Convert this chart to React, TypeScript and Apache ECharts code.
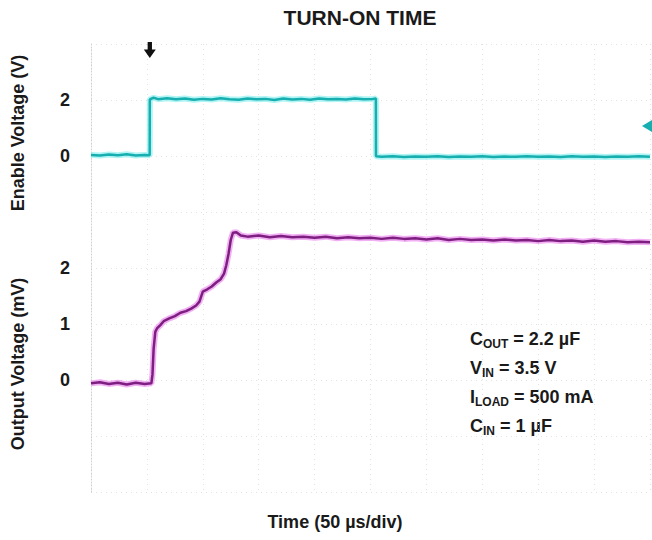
import React, { useEffect, useRef } from "react";
import * as echarts from "echarts";

const TITLE = "TURN-ON TIME";
const X_NAME = "Time (50 µs/div)";
const ENABLE_NAME = "Enable Voltage (V)";
const OUTPUT_NAME = "Output Voltage (mV)";
const ENABLE_TICKS = [0, 2];
const OUTPUT_TICKS = [0, 1, 2];
const TRIGGER_TIME = 52.6; // µs
const ENABLE_LEVEL_MARK = 1.07; // V

// Enable voltage trace: [time µs, volts]
const enableTrace: [number, number][] = [
  [0, 0.04], [8, 0.02], [16, 0.05], [24, 0.03], [32, 0.06], [40, 0.02], [48, 0.04], [52.5, 0.03],
  [52.6, 2.02], [56, 2.08], [60, 2.03], [68, 2.06], [76, 2.03], [84, 2.05], [92, 2.01], [100, 2.04],
  [108, 2.02], [116, 2.06], [124, 2.03], [132, 2.01], [140, 2.05], [148, 2.03], [156, 2.04], [164, 2.0],
  [172, 2.05], [180, 2.02], [188, 2.04], [196, 2.01], [204, 2.05], [212, 2.03], [220, 2.04], [228, 2.02],
  [236, 2.05], [244, 2.03], [252, 2.04], [254.8, 2.05],
  [254.9, -0.01], [260, -0.03], [270, -0.01], [280, -0.04], [290, -0.02], [300, -0.03], [310, -0.01],
  [320, -0.04], [330, -0.02], [340, -0.03], [350, -0.01], [360, -0.04], [370, -0.02], [380, -0.03],
  [390, -0.01], [400, -0.03], [410, -0.02], [420, -0.04], [430, -0.01], [440, -0.03], [450, -0.02],
  [460, -0.04], [470, -0.02], [480, -0.03], [490, -0.01], [500, -0.03],
];

// Output voltage trace: [time µs, mV]
const outputTrace: [number, number][] = [
  [0, -0.06], [8, -0.04], [16, -0.07], [24, -0.05], [32, -0.08], [40, -0.05], [48, -0.07], [54, -0.06],
  [55, 0.1], [56, 0.55], [57.5, 0.86], [59, 0.92], [62, 0.98], [65, 1.05], [70, 1.1], [75, 1.14],
  [80, 1.2], [85, 1.23], [90, 1.28], [94, 1.33], [97, 1.4], [100, 1.58], [104, 1.62], [108, 1.67],
  [112, 1.74], [116, 1.8], [119, 1.9], [121, 2.05], [123, 2.25], [125, 2.5], [127, 2.63], [130, 2.64],
  [134, 2.58], [140, 2.56], [150, 2.58], [160, 2.55], [170, 2.57], [180, 2.55], [190, 2.56], [200, 2.54],
  [210, 2.56], [220, 2.53], [230, 2.55], [240, 2.53], [250, 2.54], [260, 2.52], [270, 2.54], [280, 2.52],
  [290, 2.53], [300, 2.51], [310, 2.53], [320, 2.5], [330, 2.52], [340, 2.5], [350, 2.51], [360, 2.49],
  [370, 2.51], [380, 2.49], [390, 2.5], [400, 2.48], [410, 2.5], [420, 2.48], [430, 2.49], [440, 2.47],
  [450, 2.49], [460, 2.47], [470, 2.48], [480, 2.46], [490, 2.47], [500, 2.46],
];

const FONT = "'Liberation Sans', Arial, sans-serif";
const TEXT_COLOR = "#1a1a1a";
const TEAL = "#17aeb0";
const TEAL_HALO = "#8ff0ef";
const PURPLE = "#7d1e80";
const PURPLE_HALO = "#ec8ff0";

const annotations = [
  { main: "C", sub: "OUT", rest: " = 2.2 µF" },
  { main: "V", sub: "IN", rest: " = 3.5 V" },
  { main: "I", sub: "LOAD", rest: " = 500 mA" },
  { main: "C", sub: "IN", rest: " = 1 µF" },
];

export default function App() {
  const ref = useRef<HTMLDivElement>(null);
  useEffect(() => {
    if (!ref.current) return;
    const chart = echarts.init(ref.current, undefined, { renderer: "svg" });
    const gridLine = { show: true, lineStyle: { color: "#e2e2e2", type: [1, 4] as any, width: 1 } };
    const option: any = {
      animation: false,
      backgroundColor: "#ffffff",
      grid: { left: 91, top: 44, width: 559, height: 448 },
      xAxis: {
        type: "value",
        min: 0,
        max: 500,
        interval: 50,
        axisLabel: { show: false },
        axisTick: { show: false },
        axisLine: { show: false },
        splitLine: gridLine,
      },
      yAxis: [
        {
          type: "value",
          min: -12,
          max: 4,
          interval: 2,
          position: "left",
          axisLine: { show: true, lineStyle: { color: "#d0d0d0", type: [1, 2] as any } },
          axisTick: { show: false },
          splitLine: gridLine,
          axisLabel: {
            margin: 21,
            fontSize: 18,
            fontWeight: "bold",
            fontFamily: FONT,
            color: TEXT_COLOR,
            formatter: (v: number) => (ENABLE_TICKS.includes(v) ? String(v) : ""),
          },
        },
        {
          type: "value",
          min: -2,
          max: 6,
          interval: 1,
          position: "left",
          offset: 0,
          axisLine: { show: false },
          axisTick: { show: false },
          splitLine: { show: false },
          axisLabel: {
            margin: 21,
            fontSize: 18,
            fontWeight: "bold",
            fontFamily: FONT,
            color: TEXT_COLOR,
            formatter: (v: number) => (OUTPUT_TICKS.includes(v) ? String(v) : ""),
          },
        },
      ],
      series: [
        {
          type: "line",
          yAxisIndex: 0,
          data: enableTrace,
          showSymbol: false,
          lineStyle: { color: TEAL_HALO, width: 6, opacity: 0.7 },
          silent: true,
        },
        {
          type: "line",
          yAxisIndex: 0,
          data: enableTrace,
          showSymbol: false,
          lineStyle: { color: TEAL, width: 2.5 },
          markPoint: {
            silent: true,
            label: { show: false },
            data: [
              {
                coord: [TRIGGER_TIME, 4],
                symbol: "path://M3.2,0 L6.8,0 L6.8,7 L10,7 L5,15 L0,7 L3.2,7 Z",
                symbolSize: [12, 16],
                symbolOffset: [0, 6],
                itemStyle: { color: "#111111" },
              },
              {
                coord: [500, ENABLE_LEVEL_MARK],
                symbol: "triangle",
                symbolSize: [12, 10],
                symbolRotate: 90,
                symbolOffset: [-3, 0],
                itemStyle: { color: TEAL },
              },
            ],
          },
        },
        {
          type: "line",
          yAxisIndex: 1,
          data: outputTrace,
          showSymbol: false,
          lineStyle: { color: PURPLE_HALO, width: 6, opacity: 0.7 },
          silent: true,
        },
        {
          type: "line",
          yAxisIndex: 1,
          data: outputTrace,
          showSymbol: false,
          lineStyle: { color: PURPLE, width: 2.5 },
        },
      ],
      graphic: [
        {
          type: "text",
          x: 360,
          y: 17,
          style: {
            text: TITLE,
            font: `bold 21px ${FONT}`,
            fill: TEXT_COLOR,
            textAlign: "center",
            textVerticalAlign: "middle",
          },
        },
        {
          type: "text",
          x: 335,
          y: 522,
          style: {
            text: X_NAME,
            font: `bold 18px ${FONT}`,
            fill: TEXT_COLOR,
            textAlign: "center",
            textVerticalAlign: "middle",
          },
        },
        {
          type: "text",
          x: 17.5,
          y: 133,
          rotation: Math.PI / 2,
          style: {
            text: ENABLE_NAME,
            font: `bold 18px ${FONT}`,
            fill: TEXT_COLOR,
            textAlign: "center",
            textVerticalAlign: "middle",
          },
        },
        {
          type: "text",
          x: 17.5,
          y: 364,
          rotation: Math.PI / 2,
          style: {
            text: OUTPUT_NAME,
            font: `bold 18px ${FONT}`,
            fill: TEXT_COLOR,
            textAlign: "center",
            textVerticalAlign: "middle",
          },
        },
        ...annotations.map((a, i) => ({
          type: "text",
          x: 470,
          y: 339 + i * 29,
          style: {
            text: `{m|${a.main}}{s|${a.sub}}{m|${a.rest}}`,
            textAlign: "left",
            textVerticalAlign: "middle",
            rich: {
              m: { fontSize: 18, fontWeight: "bold", fontFamily: FONT, fill: TEXT_COLOR, lineHeight: 22 },
              s: {
                fontSize: 12,
                fontWeight: "bold",
                fontFamily: FONT,
                fill: TEXT_COLOR,
                lineHeight: 12,
                verticalAlign: "bottom",
              },
            },
          },
        })),
      ],
    };
    chart.setOption(option);
    return () => chart.dispose();
  }, []);
  return (
    <div
      ref={ref}
      style={{ position: "fixed", left: 0, top: 0, width: 652, height: 540, background: "#fff" }}
    />
  );
}
